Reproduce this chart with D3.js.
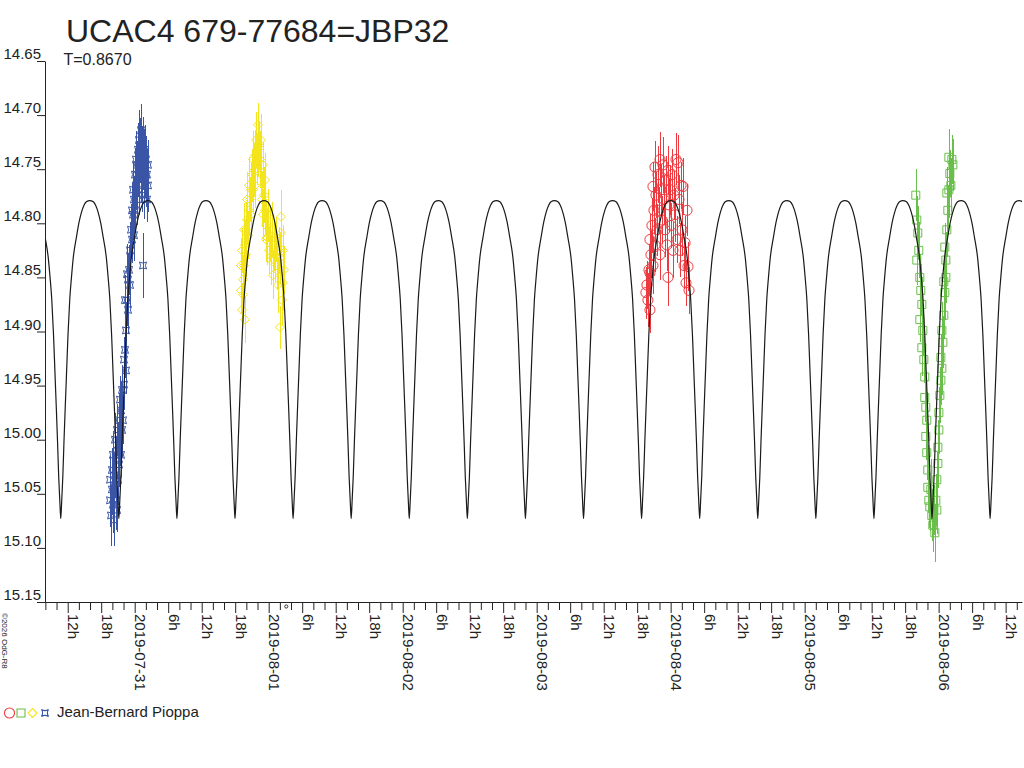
<!DOCTYPE html>
<html><head><meta charset="utf-8">
<script src="https://cdn.jsdelivr.net/npm/d3@7"></script>
<style>
body{margin:0;background:#fff}
svg{display:block}
text{font-family:"Liberation Sans",Arial,sans-serif;fill:#222}
</style>
</head><body>
<svg id="chart" width="1024" height="768"></svg>
<script>
// ---------- data ----------
const chartTitle = "UCAC4 679-77684=JBP32";
const periodLabel = "T=0.8670";
const observerName = "Jean-Bernard Pioppa";
const copyrightText = "©2026 OdG-R8";
const timeBase = "2019-07-31T00:00:00Z";            // hours in the obs arrays count from here
const xDomain = ["2019-07-30T07:56:00Z", "2019-08-06T14:56:00Z"];
const magTicks = [14.65, 14.70, 14.75, 14.80, 14.85, 14.90, 14.95, 15.00, 15.05, 15.10, 15.15];
const periodDays = 0.8670;
const minEpochHours = 49.18;                         // a minimum of the model curve
const maxMag = 14.779, minMag = 15.073;
// one quarter cycle of the model: phase from minimum (0) to maximum (1), depth (1 = minimum)
const templatePhase = [0, 0.03, 0.07, 0.11, 0.15, 0.20, 0.25, 0.31, 0.37, 0.43, 0.54, 0.63, 0.71, 0.80, 0.88, 1.0];
const templateDepth = [1, 0.95, 0.87, 0.76, 0.66, 0.54, 0.42, 0.31, 0.24, 0.18, 0.115, 0.068, 0.038, 0.015, 0.004, 0];

// [hours from timeBase, magnitude, error]
const blueObs = [
[-4.42,15.037,0.022],[-4.42,15.056,0.025],[-4.24,15.070,0.028],[-4.07,15.046,0.024],[-4.07,15.028,0.020],[-3.89,15.060,0.026],[-3.89,15.014,0.022],[-3.71,15.042,0.030],[-3.71,15.074,0.024],[-3.53,15.033,0.021],[-3.53,15.000,0.025],[-3.35,15.056,0.027],[-3.35,15.019,0.022],[-3.17,14.991,0.024],[-3.17,15.065,0.020],[-2.99,15.010,0.026],[-2.99,15.037,0.023],[-2.81,14.982,0.025],[-2.81,15.023,0.021],[-2.63,15.000,0.024],[-2.63,14.963,0.022],[-2.45,14.973,0.026],[-2.45,15.014,0.020],[-2.27,14.954,0.023],[-2.27,14.991,0.025],[-2.10,14.982,0.022],[-1.92,14.949,0.024],[-1.92,14.926,0.021],[-1.74,14.917,0.026],[-1.74,14.871,0.023],[-1.56,14.899,0.025],[-1.56,14.936,0.022],[-1.38,14.871,0.024],[-1.38,14.847,0.028],[-1.20,14.880,0.022],[-1.20,14.852,0.025],[-1.02,14.843,0.023],[-0.84,14.825,0.026],[-0.84,14.857,0.021],[-0.66,14.806,0.024],[-0.48,14.815,0.022],[-0.48,14.788,0.025],[-0.30,14.792,0.023],[-0.30,14.769,0.026],[-0.13,14.778,0.022],[-0.13,14.811,0.024],[0.05,14.755,0.025],[0.05,14.788,0.021],[0.23,14.765,0.023],[0.23,14.741,0.026],[0.41,14.746,0.022],[0.41,14.778,0.024],[0.59,14.732,0.025],[0.59,14.755,0.021],[0.77,14.723,0.028],[0.77,14.769,0.023],[0.95,14.741,0.022],[0.95,14.728,0.025],[1.13,14.714,0.024],[1.13,14.755,0.026],[1.31,14.732,0.022],[1.31,14.765,0.025],[1.49,14.746,0.023],[1.49,14.723,0.021],[1.49,14.839,0.030],[1.67,14.737,0.024],[1.67,14.774,0.022],[1.84,14.751,0.026],[1.84,14.732,0.023],[2.02,14.760,0.025],[2.02,14.741,0.022],[2.20,14.755,0.024],[2.20,14.778,0.021],[2.38,14.746,0.023],[2.38,14.765,0.025]
];
const yellowObs = [
[19.04,14.862,0.022],[19.04,14.839,0.025],[19.22,14.880,0.024],[19.22,14.825,0.021],[19.40,14.866,0.026],[19.40,14.852,0.023],[19.58,14.839,0.022],[19.58,14.806,0.025],[19.75,14.820,0.024],[19.75,14.889,0.022],[19.93,14.806,0.026],[19.93,14.829,0.021],[20.11,14.797,0.023],[20.11,14.778,0.025],[20.29,14.811,0.022],[20.47,14.788,0.024],[20.47,14.765,0.026],[20.65,14.778,0.021],[20.83,14.769,0.025],[20.83,14.792,0.022],[21.01,14.755,0.024],[21.19,14.741,0.026],[21.19,14.769,0.022],[21.37,14.751,0.025],[21.55,14.737,0.023],[21.55,14.765,0.021],[21.72,14.723,0.026],[21.90,14.741,0.024],[22.08,14.709,0.020],[22.08,14.732,0.025],[22.26,14.728,0.023],[22.44,14.741,0.026],[22.62,14.755,0.022],[22.62,14.723,0.024],[22.80,14.778,0.025],[22.98,14.746,0.021],[22.98,14.792,0.024],[23.16,14.774,0.026],[23.34,14.788,0.022],[23.34,14.760,0.025],[23.52,14.802,0.023],[23.52,14.815,0.021],[23.70,14.813,0.026],[23.87,14.792,0.024],[24.05,14.825,0.022],[24.23,14.811,0.025],[24.41,14.834,0.023],[24.59,14.806,0.026],[24.77,14.848,0.022],[24.95,14.820,0.024],[25.13,14.829,0.025],[25.31,14.815,0.021],[25.49,14.839,0.023],[25.67,14.857,0.026],[25.84,14.825,0.022],[26.02,14.832,0.024],[26.02,14.896,0.020],[26.20,14.794,0.025],[26.20,14.809,0.022],[26.38,14.871,0.024],[26.56,14.855,0.026],[26.56,14.825,0.023],[26.74,14.843,0.022]
];
const redObs = [
[91.57,14.864,0.024],[91.75,14.857,0.022],[91.93,14.871,0.025],[92.11,14.843,0.023],[92.29,14.880,0.021],[92.29,14.846,0.026],[92.29,14.815,0.024],[92.47,14.829,0.022],[92.65,14.802,0.025],[92.83,14.766,0.023],[92.83,14.839,0.026],[93.01,14.788,0.022],[93.19,14.748,0.024],[93.19,14.820,0.025],[93.37,14.774,0.021],[93.55,14.806,0.024],[93.73,14.755,0.026],[93.91,14.788,0.022],[94.09,14.741,0.025],[94.09,14.829,0.023],[94.27,14.769,0.024],[94.45,14.797,0.022],[94.63,14.746,0.026],[94.81,14.778,0.023],[94.99,14.806,0.025],[95.16,14.760,0.022],[95.34,14.820,0.024],[95.52,14.850,0.026],[95.52,14.751,0.022],[95.70,14.783,0.025],[95.88,14.769,0.023],[96.06,14.802,0.021],[96.24,14.755,0.024],[96.42,14.825,0.026],[96.60,14.774,0.022],[96.78,14.792,0.025],[96.96,14.741,0.024],[97.14,14.815,0.022],[97.32,14.744,0.026],[97.50,14.778,0.023],[97.68,14.825,0.025],[97.86,14.765,0.022],[98.04,14.806,0.024],[98.22,14.766,0.026],[98.40,14.839,0.022],[98.58,14.818,0.025],[98.75,14.855,0.021],[98.93,14.788,0.024],[99.11,14.840,0.023],[99.29,14.862,0.022]
];
const greenObs = [
[139.91,14.774,0.024],[140.09,14.797,0.022],[140.27,14.809,0.025],[140.09,14.834,0.023],[140.45,14.825,0.026],[140.63,14.850,0.022],[140.81,14.862,0.024],[140.99,14.875,0.025],[140.63,14.889,0.021],[141.17,14.899,0.024],[140.99,14.915,0.026],[141.35,14.926,0.022],[141.52,14.942,0.025],[141.52,14.961,0.023],[141.70,14.970,0.024],[141.88,14.982,0.026],[141.70,14.997,0.022],[141.88,15.012,0.025],[142.06,15.028,0.023],[142.06,15.044,0.024],[142.24,15.056,0.026],[142.42,15.062,0.022],[142.60,15.046,0.028],[142.78,15.070,0.024],[142.96,15.079,0.025],[143.14,15.065,0.023],[143.32,15.086,0.027],[143.50,15.056,0.024],[143.68,15.065,0.022],[143.68,15.037,0.026],[143.86,15.022,0.023],[143.86,15.007,0.025],[144.04,14.991,0.022],[144.04,14.975,0.024],[144.22,14.959,0.026],[144.40,14.945,0.023],[144.58,14.934,0.025],[144.40,14.924,0.022],[144.76,14.910,0.024],[144.58,14.899,0.026],[144.93,14.885,0.022],[145.11,14.864,0.025],[144.93,14.854,0.023],[145.29,14.850,0.024],[145.29,14.834,0.026],[145.11,14.822,0.022],[145.47,14.806,0.025],[145.65,14.788,0.023],[145.47,14.772,0.024],[145.83,14.769,0.026],[146.01,14.754,0.022],[146.19,14.765,0.025],[146.37,14.741,0.023],[145.83,14.739,0.026],[146.55,14.746,0.024]
];
const markHours = [27.15];

// ---------- drawing ----------
const svg = d3.select("#chart");
const baseMs = Date.parse(timeBase);
const toDate = h => new Date(baseMs + h * 3600e3);

const x = d3.scaleUtc().domain(xDomain.map(s => new Date(s))).range([45, 1022]);
const y = d3.scaleLinear().domain([14.65, 15.15]).range([61, 602]);

// title
svg.append("text").attr("x", 66).attr("y", 41.5).attr("font-size", 32).text(chartTitle);
svg.append("text").attr("x", 63.5).attr("y", 65).attr("font-size", 16).text(periodLabel);

// observations
const shapePath = {
  circle: d3.symbol(d3.symbolCircle, 80)(),
  square: "M-4,-4h8v8h-8z",
  diamond: "M0,-4.5L4.5,0L0,4.5L-4.5,0Z",
  star: "M-3.5,-3.5Q0,-1.3 3.5,-3.5Q1.3,0 3.5,3.5Q0,1.3 -3.5,3.5Q-1.3,0 -3.5,-3.5Z"
};
const series = [
  {data: blueObs, color: "#3b55a6", shape: "star"},
  {data: yellowObs, color: "#f4e41c", shape: "diamond"},
  {data: redObs, color: "#ee3a3e", shape: "circle"},
  {data: greenObs, color: "#6abf4b", shape: "square"}
];
const obsG = svg.append("g");
series.forEach(s => {
  const g = obsG.append("g");
  g.selectAll("line").data(s.data).join("line")
    .attr("x1", d => Math.round(x(toDate(d[0]))) + 0.5).attr("x2", d => Math.round(x(toDate(d[0]))) + 0.5)
    .attr("y1", d => y(d[1] - d[2])).attr("y2", d => y(d[1] + d[2]))
    .attr("stroke", s.color).attr("stroke-width", 1).attr("shape-rendering", "crispEdges");
  g.selectAll("path").data(s.data).join("path")
    .attr("d", shapePath[s.shape])
    .attr("transform", d => `translate(${x(toDate(d[0]))},${y(d[1])})`)
    .attr("fill", "none").attr("stroke", s.color).attr("stroke-width", 1);
});

// model curve
const qH = periodDays * 24 / 4;
const startH = (x.domain()[0] - baseMs) / 3600e3, endH = (x.domain()[1] - baseMs) / 3600e3;
const kStart = Math.floor((startH - minEpochHours) / (2 * qH)) - 1;
const kEnd = Math.ceil((endH - minEpochHours) / (2 * qH)) + 1;
const modelPts = [];
for (let k = kStart; k <= kEnd; k++) {
  const tMin = minEpochHours + k * 2 * qH;
  for (let i = templatePhase.length - 1; i >= 1; i--) modelPts.push([tMin - templatePhase[i] * qH, templateDepth[i]]);
  for (let i = 0; i < templatePhase.length; i++) modelPts.push([tMin + templatePhase[i] * qH, templateDepth[i]]);
}
const cleanPts = modelPts.filter((p, i) => i === 0 || p[0] - modelPts[i - 1][0] > 1e-9);
svg.append("clipPath").attr("id", "plotClip").append("rect").attr("x", 45).attr("y", 0).attr("width", 977).attr("height", 602);
svg.append("path").datum(cleanPts)
  .attr("clip-path", "url(#plotClip)")
  .attr("d", d3.line().x(d => x(toDate(d[0]))).y(d => y(maxMag + (minMag - maxMag) * d[1])).curve(d3.curveMonotoneX))
  .attr("fill", "none").attr("stroke", "#1a1a1a").attr("stroke-width", 1.2);

// axes
const fmtDay = d3.utcFormat("%Y-%m-%d");
const xg = svg.append("g").attr("transform", "translate(0,602)")
  .call(d3.axisBottom(x).ticks(d3.utcHour.every(2)).tickSize(8).tickSizeOuter(0)
    .tickFormat(d => {
      const h = d.getUTCHours();
      if (h % 6 !== 0) return "";
      return h === 0 ? fmtDay(d) : h + "h";
    }));
xg.attr("font-family", null).attr("font-size", null).attr("color", "#222");
xg.selectAll(".tick line").attr("y2", d => d.getUTCHours() % 6 === 0 ? 11 : 8);
xg.selectAll(".tick text").attr("transform", "rotate(90)").attr("x", 12).attr("y", 0).attr("dy", 0)
  .style("text-anchor", "start").attr("font-size", 15);

const yg = svg.append("g").attr("transform", "translate(45,0)")
  .call(d3.axisLeft(y).tickValues(magTicks).tickSize(8).tickSizeOuter(0).tickFormat(d3.format(".2f")));
yg.attr("font-family", null).attr("font-size", null).attr("color", "#222");
yg.selectAll(".tick text").attr("x", -4).attr("y", -2.5).attr("dy", 0).attr("font-size", 15);

// small mark below axis
svg.selectAll("circle.mark").data(markHours).join("circle").attr("class", "mark")
  .attr("cx", d => x(toDate(d))).attr("cy", 606.5).attr("r", 1.6)
  .attr("fill", "none").attr("stroke", "#222").attr("stroke-width", 0.9);

// copyright
svg.append("text").attr("transform", "translate(1.5,613) rotate(90)").attr("font-size", 8).text(copyrightText);

// legend
const lg = svg.append("g");
[["circle", "#ee3a3e", 9.5], ["square", "#6abf4b", 21], ["diamond", "#f4e41c", 32.5], ["star", "#3b55a6", 45]].forEach(([sh, c, cx]) => {
  lg.append("path").attr("d", shapePath[sh]).attr("transform", `translate(${cx},713)`)
    .attr("fill", "none").attr("stroke", c).attr("stroke-width", 1.1);
});
lg.append("text").attr("x", 57).attr("y", 717).attr("font-size", 15).text(observerName);
</script>
</body></html>
